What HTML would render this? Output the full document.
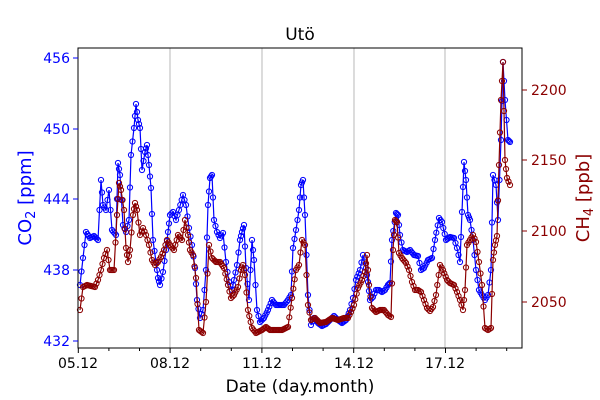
<!DOCTYPE html>
<html><head><meta charset="utf-8"><style>body{margin:0;background:#fff}svg{display:block;font-family:"DejaVu Sans","Liberation Sans",sans-serif}</style></head>
<body>
<svg id="s" width="600" height="400" viewBox="0 0 600 400" xmlns="http://www.w3.org/2000/svg">
<rect width="600" height="400" fill="#fff"/>
<g stroke="#b0b0b0" stroke-width="0.9">
<line x1="170" y1="48" x2="170" y2="348"/><line x1="262" y1="48" x2="262" y2="348"/>
<line x1="354" y1="48" x2="354" y2="348"/><line x1="445" y1="48" x2="445" y2="348"/>
</g>
<g id="data"></g>
<rect x="78" y="48" width="444" height="300" fill="none" stroke="#000" stroke-width="1"/>
<g stroke="#000" id="xt"></g>
<g font-size="14" fill="#000" text-anchor="middle">
<text x="78" y="368">05.12</text><text x="170" y="368">08.12</text><text x="262" y="368">11.12</text><text x="354" y="368">14.12</text><text x="445" y="368">17.12</text>
<text x="300" y="392" font-size="17">Date (day.month)</text>
<text x="300" y="40" font-size="17">Utö</text>
</g>
<g stroke="#0000ff"><line x1="73" y1="58" x2="78" y2="58"/><line x1="73" y1="129" x2="78" y2="129"/><line x1="73" y1="199" x2="78" y2="199"/><line x1="73" y1="270" x2="78" y2="270"/><line x1="73" y1="341" x2="78" y2="341"/></g>
<g font-size="14" fill="#0000ff" text-anchor="end">
<text x="70" y="63">456</text><text x="70" y="134">450</text><text x="70" y="204">444</text><text x="70" y="275">438</text><text x="70" y="346">432</text>
</g>
<text transform="translate(31,198) rotate(-90)" font-size="18" fill="#0000ff" text-anchor="middle">CO<tspan font-size="13" dy="4">2</tspan><tspan dy="-4"> [ppm]</tspan></text>
<g stroke="#8b0000"><line x1="522" y1="90" x2="527" y2="90"/><line x1="522" y1="160" x2="527" y2="160"/><line x1="522" y1="231" x2="527" y2="231"/><line x1="522" y1="302" x2="527" y2="302"/></g>
<g font-size="14" fill="#8b0000">
<text x="531" y="95">2200</text><text x="531" y="165">2150</text><text x="531" y="236">2100</text><text x="531" y="307">2050</text>
</g>
<text transform="translate(589,198) rotate(-90)" font-size="18" fill="#8b0000" text-anchor="middle">CH<tspan font-size="13" dy="4">4</tspan><tspan dy="-4"> [ppb]</tspan></text>
</svg>
<script>
var NS="http://www.w3.org/2000/svg";
var xt=document.getElementById("xt");
for(var d=0;d<15;d++){var x=78.3+d*30.6;if(x>522)break;var l=document.createElementNS(NS,"line");var big=(d%3==0);l.setAttribute("x1",x);l.setAttribute("x2",x);l.setAttribute("y1",348);l.setAttribute("y2",348+(big?5:3));xt.appendChild(l);}
var co2=[[80,285],[83,258],[86,232],[90,238],[94,236],[98,240],[101,180],[103,205],[106,210],[109,190],[112,230],[116,235],[118,163],[120,175],[123,225],[126,232],[129,220],[131,155],[134,128],[136,104],[138,120],[140,128],[142,170],[145,152],[147,145],[149,165],[151,188],[153,240],[156,262],[158,278],[160,285],[163,272],[166,250],[168,232],[170,215],[173,212],[176,220],[179,210],[183,195],[186,205],[189,228],[192,245],[195,268],[197,300],[200,318],[203,310],[206,270],[208,205],[210,178],[212,175],[214,220],[217,232],[220,238],[223,233],[226,262],[229,282],[232,290],[234,280],[237,265],[240,240],[242,232],[244,225],[246,268],[249,300],[252,240],[254,260],[257,310],[260,322],[264,318],[268,310],[272,300],[276,305],[280,305],[284,305],[288,300],[291,295],[293,248],[296,230],[299,210],[301,185],[303,180],[305,215],[308,295],[311,325],[314,318],[318,323],[322,326],[326,324],[330,320],[334,316],[338,320],[342,323],[346,320],[350,310],[353,298],[356,280],[360,270],[363,255],[366,268],[368,282],[370,300],[373,297],[376,290],[379,290],[382,292],[385,290],[388,285],[390,283],[392,240],[396,213],[398,215],[400,235],[403,250],[407,252],[410,250],[414,255],[418,256],[421,270],[424,268],[428,260],[432,258],[435,240],[439,218],[442,222],[446,240],[450,237],[454,238],[457,248],[460,262],[462,212],[464,162],[466,180],[468,215],[470,220],[473,240],[476,270],[479,290],[482,295],[485,300],[488,295],[491,270],[493,175],[496,185],[498,220],[501,140],[503,62],[505,100],[508,140],[510,142]];
var ch4=[[80,310],[83,287],[87,285],[91,286],[95,287],[98,280],[101,270],[104,258],[107,250],[110,270],[114,270],[117,215],[119,183],[121,190],[124,210],[126,248],[128,262],[130,250],[133,215],[135,203],[137,210],[140,235],[143,228],[146,235],[149,245],[152,260],[155,265],[158,262],[161,257],[164,250],[167,240],[170,245],[174,250],[178,235],[182,240],[185,220],[188,235],[190,250],[193,255],[196,278],[199,330],[203,333],[206,302],[209,245],[212,258],[216,262],[220,262],[224,268],[228,285],[231,298],[234,295],[238,287],[241,270],[243,265],[245,275],[248,310],[252,328],[256,333],[262,330],[266,327],[270,330],[276,330],[282,330],[288,327],[292,298],[296,270],[299,265],[302,240],[305,245],[308,305],[311,320],[315,318],[320,323],[326,322],[332,318],[338,320],[344,318],[348,318],[351,312],[354,305],[358,288],[362,280],[365,272],[367,255],[369,285],[372,308],[376,312],[380,310],[384,310],[388,315],[391,317],[393,250],[395,220],[397,222],[399,253],[402,258],[406,263],[409,270],[412,282],[415,290],[418,290],[421,292],[424,300],[427,308],[430,311],[433,307],[436,295],[440,265],[443,270],[447,280],[450,283],[454,285],[457,292],[460,300],[463,310],[465,290],[467,245],[470,240],[473,235],[476,242],[479,262],[482,285],[485,328],[488,330],[491,328],[493,260],[495,245],[497,236],[499,165],[501,100],[503,62],[505,160],[507,178],[510,185]];
var g=document.getElementById("data");
function draw(pts,c){
 var dense=[];
 for(var i=0;i<pts.length-1;i++){var a=pts[i],b=pts[i+1];var n=Math.max(1,Math.round((b[0]-a[0])/1.3));for(var k=0;k<n;k++){var t=k/n;dense.push([a[0]+(b[0]-a[0])*t,a[1]+(b[1]-a[1])*t]);}}
 dense.push(pts[pts.length-1]);
 var p=document.createElementNS(NS,"polyline");p.setAttribute("points",dense.map(function(q){return q[0].toFixed(1)+","+q[1].toFixed(1)}).join(" "));p.setAttribute("fill","none");p.setAttribute("stroke",c);p.setAttribute("stroke-width","1.2");g.appendChild(p);
 dense.forEach(function(q){var e=document.createElementNS(NS,"circle");e.setAttribute("cx",q[0].toFixed(1));e.setAttribute("cy",q[1].toFixed(1));e.setAttribute("r","2.6");e.setAttribute("fill","none");e.setAttribute("stroke",c);e.setAttribute("stroke-width","1");g.appendChild(e);});
}
draw(co2,"#0000ff");draw(ch4,"#8b0000");
</script>
</body></html>
